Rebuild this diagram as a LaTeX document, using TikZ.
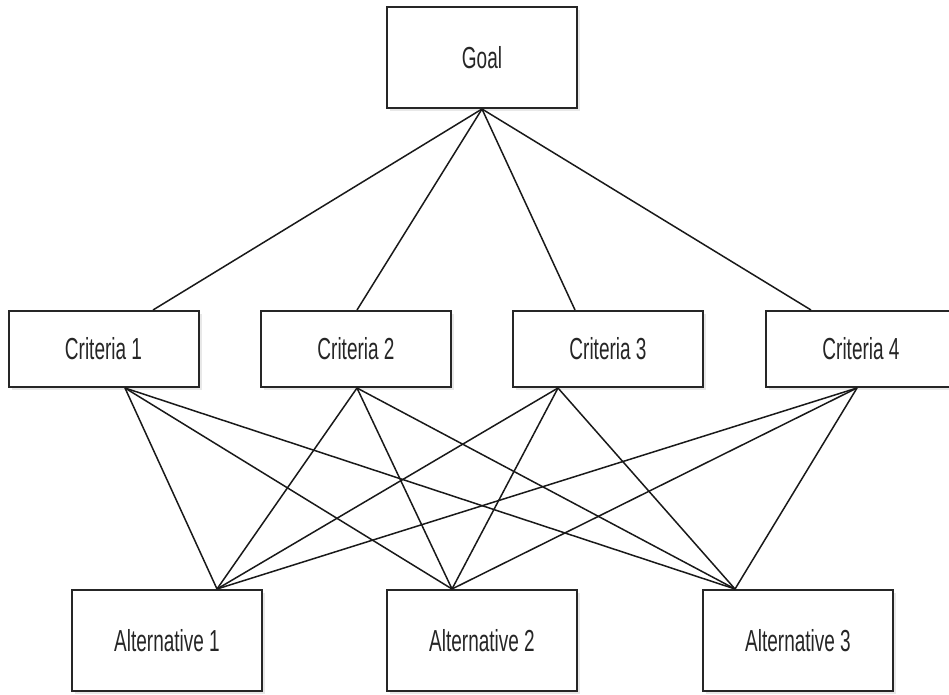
\documentclass[tikz,border=0pt]{standalone}
\usepackage{fontspec}
\setmainfont{Liberation Sans}
\usepackage{graphicx}
\usepackage{tikz}
\usetikzlibrary{shadows}

\newcommand{\tall}[1]{\scalebox{1}[1.6]{#1}}

\begin{document}
\begin{tikzpicture}[x=1pt,y=-1pt,
    box/.style={draw=black!85, line width=2pt, fill=white, inner sep=0pt,
        minimum width=190pt, text=black!85, font=\fontsize{19}{19}\selectfont,
        drop shadow={shadow xshift=3pt, shadow yshift=-3pt, opacity=0.18}},
    tallbox/.style={box, minimum height=101pt},
    shortbox/.style={box, minimum height=76pt},
    link/.style={draw=black!90, line width=1.5pt}]
    \clip (0,0) rectangle (949,695);

    % Goal
    \node[tallbox] (goal) at (482,57.5) {\tall{Goal}};

    % Criteria
    \node[shortbox] (c1) at (103.5,349) {\tall{Criteria 1}};
    \node[shortbox] (c2) at (356,349) {\tall{Criteria 2}};
    \node[shortbox] (c3) at (608,349) {\tall{Criteria 3}};
    \node[shortbox] (c4) at (861,349) {\tall{Criteria 4}};

    % Alternatives
    \node[tallbox] (a1) at (167,640.5) {\tall{Alternative 1}};
    \node[tallbox] (a2) at (482,640.5) {\tall{Alternative 2}};
    \node[tallbox] (a3) at (798,640.5) {\tall{Alternative 3}};

    % Goal to criteria
    \draw[link] (goal.south) -- ([xshift=49.5pt]c1.north);
    \draw[link] (goal.south) -- ([xshift=1pt]c2.north);
    \draw[link] (goal.south) -- ([xshift=-33pt]c3.north);
    \draw[link] (goal.south) -- ([xshift=-50pt]c4.north);

    % Criteria to alternatives
    \draw[link] ([xshift=21.5pt]c1.south) -- ([xshift=50pt]a1.north);
    \draw[link] ([xshift=21.5pt]c1.south) -- ([xshift=-30pt]a2.north);
    \draw[link] ([xshift=21.5pt]c1.south) -- ([xshift=-63pt]a3.north);

    \draw[link] ([xshift=1pt]c2.south) -- ([xshift=50pt]a1.north);
    \draw[link] ([xshift=1pt]c2.south) -- ([xshift=-30pt]a2.north);
    \draw[link] ([xshift=1pt]c2.south) -- ([xshift=-63pt]a3.north);

    \draw[link] ([xshift=-50pt]c3.south) -- ([xshift=50pt]a1.north);
    \draw[link] ([xshift=-50pt]c3.south) -- ([xshift=-30pt]a2.north);
    \draw[link] ([xshift=-50pt]c3.south) -- ([xshift=-63pt]a3.north);

    \draw[link] ([xshift=-4pt]c4.south) -- ([xshift=50pt]a1.north);
    \draw[link] ([xshift=-4pt]c4.south) -- ([xshift=-30pt]a2.north);
    \draw[link] ([xshift=-4pt]c4.south) -- ([xshift=-63pt]a3.north);
\end{tikzpicture}
\end{document}
